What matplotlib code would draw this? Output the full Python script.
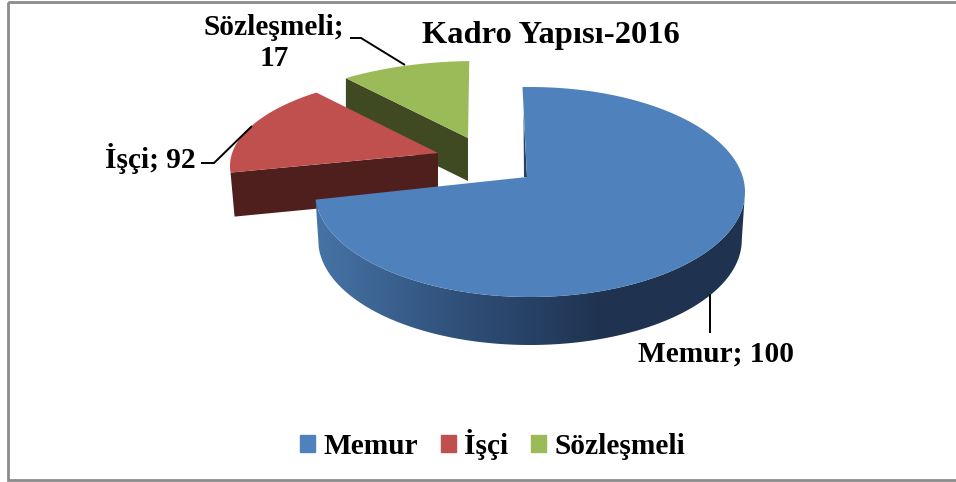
import numpy as np
import matplotlib
matplotlib.use("Agg")
import matplotlib.pyplot as plt
from matplotlib.colors import LinearSegmentedColormap
from matplotlib.patches import Polygon

plt.rcParams['font.family'] = ['Liberation Serif', 'DejaVu Serif']

# Data as printed on the chart and slice sizes
categories = ["Memur", "İşçi", "Sözleşmeli"]
values = [100, 92, 17]
slice_shares = [0.744, 0.161, 0.095]
title = "Kadro Yapısı-2016"

top_colors = ["#4f81bd", "#c0504d", "#9bbb59"]
wall_colors = ["#2f4f78", "#4f1f1e", "#3f4a22"]

# Layout of the exploded, tilted pie, in figure pixels
W, H = 956, 482
start_deg = -2.0
centers = [(530, 192), (441, 166), (477, 150)]
apexes = [(527, 177), (438, 153), (468, 138)]
radii = [(215, 105), (211, 91), (222, 89)]
depths = [48, 44, 43]

fig = plt.figure(figsize=(W / 100, H / 100), dpi=100)
ax = fig.add_axes([0, 0, 1, 1])


def rim(i, a0, a1, n=200, dy=0.0):
    t = np.radians(np.linspace(a0, a1, n))
    cx, cy = centers[i]
    rx, ry = radii[i]
    return cx + rx * np.sin(t), cy - ry * np.cos(t) + dy


edges = start_deg + 360 * np.concatenate([[0], np.cumsum(slice_shares)])
spans = list(zip(edges[:-1], edges[1:]))

# Sözleşmeli
a0, a1 = spans[2]
x, y = rim(2, a0, a0, 1)
ax.fill([x[0], x[0], apexes[2][0], apexes[2][0]],
        [y[0], y[0] + depths[2], apexes[2][1] + depths[2], apexes[2][1]],
        color=wall_colors[2], lw=0, zorder=1)
x, y = rim(2, a0, a1)
ax.fill(np.r_[apexes[2][0], x], np.r_[apexes[2][1], y], color=top_colors[2], lw=0,
        zorder=2)

# İşçi
a0, a1 = spans[1]
x, y = rim(1, a0, a0, 1)
ax.fill([x[0], x[0] + 4, apexes[1][0], apexes[1][0]],
        [y[0], y[0] + depths[1], apexes[1][1] + depths[1], apexes[1][1]],
        color=wall_colors[1], lw=0, zorder=3)
x, y = rim(1, a0, a1)
ax.fill(np.r_[apexes[1][0], x], np.r_[apexes[1][1], y], color=top_colors[1], lw=0,
        zorder=4)

# Memur: shaded outer wall, then inner sliver and top
a0, a1 = spans[0]
wall_map = LinearSegmentedColormap.from_list(
    "wall", ["#4674a6", "#30507a", "#1f3350", "#1f3350"], N=256)
xa, ya = rim(0, 90, a1)
xb, yb = rim(0, a1, 90, dy=depths[0])
xb = centers[0][0] + (xb - centers[0][0]) * 0.985
wall_poly = Polygon(np.c_[np.r_[xa, xb], np.r_[ya, yb]], closed=True,
                    transform=ax.transData, fc="none", ec="none")
ax.add_patch(wall_poly)
im = ax.imshow(np.linspace(0, 1, 256)[None, :], cmap=wall_map, aspect="auto",
               extent=(315, 745, 360, 180), zorder=5, interpolation="bilinear")
im.set_clip_path(wall_poly)
sx, sy = rim(0, a0, a0, 1)
ax.fill([sx[0] + 1, apexes[0][0], apexes[0][0] - 3],
        [sy[0] + 25, apexes[0][1], apexes[0][1]],
        color="#27405f", lw=0, zorder=5)
x, y = rim(0, a0, a1)
ax.fill(np.r_[apexes[0][0], x], np.r_[apexes[0][1], y], color=top_colors[0], lw=0,
        zorder=6)

# Title
ax.text(551, 35, title, ha="center", va="center", fontsize=23.4, fontweight="bold",
        color="black", zorder=8)

# Data labels and leader lines
bold = dict(fontsize=21.2, fontweight="bold", color="black", zorder=8)
ax.text(716, 354, f"{categories[0]}; {values[0]}", ha="center", va="center", **bold)
ax.text(150, 158, f"{categories[1]}; {values[1]}", ha="center", va="center", **bold)
ax.text(274, 43, f"{categories[2]};\n{values[2]}", ha="center", va="center",
        linespacing=1.2, **bold)
leader = dict(color="black", lw=1.4, zorder=7, solid_capstyle="butt")
ax.plot([710, 710], [294, 333], **leader)
ax.plot([201, 214, 252], [163, 163, 126], **leader)
ax.plot([350, 361, 405], [38, 38, 65], **leader)

# Legend
handles = [plt.Rectangle((0, 0), 1, 1, color=c) for c in top_colors]
ax.legend(handles, categories, loc="center", bbox_to_anchor=(492.5 / W, 1 - 444 / H),
          ncol=3, frameon=False, prop=dict(size=21.2, weight="bold"),
          handlelength=0.51, handleheight=0.51, handletextpad=0.28, columnspacing=0.78,
          borderaxespad=0, borderpad=0)

# Chart frame
ax.add_patch(plt.Rectangle((8, 2), 960, 478, fill=False, ec="#8c8c8c", lw=2, zorder=9))

ax.set_xlim(0, W)
ax.set_ylim(H, 0)
ax.axis("off")

fig.savefig("out.png", dpi=100, facecolor="white")
